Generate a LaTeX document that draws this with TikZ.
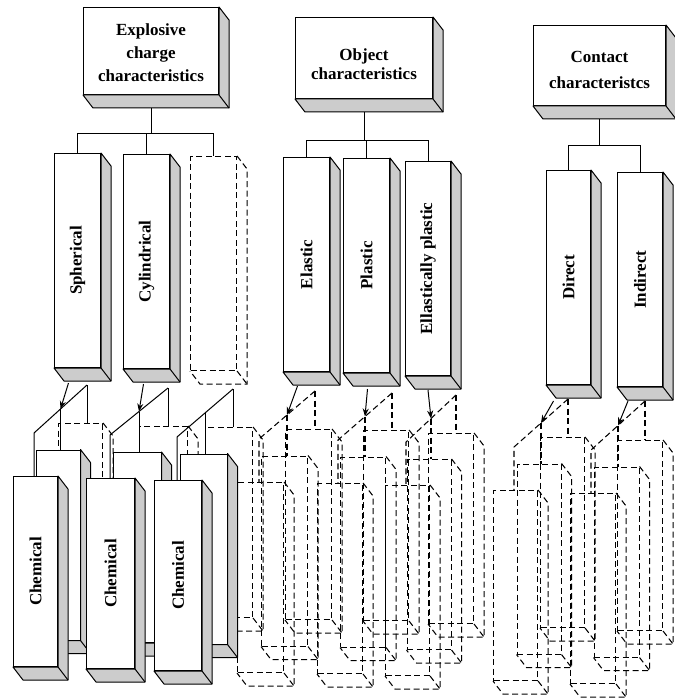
\documentclass[tikz,border=0pt]{standalone}
\usepackage{fontspec}
\setmainfont{Liberation Serif}
\usetikzlibrary{calc,arrows.meta}
\def\DX{10}
\def\DY{13}
\newcommand{\SolidCub}[5]{%
  \node[front, minimum width=#4pt, minimum height=#5pt] (#1) at (#2,#3) {};
  \filldraw[side] (#1.north east) -- ++(\DX,\DY) -- ($(#1.south east)+(\DX,\DY)$) -- ($(#1.south west)+(\DX,\DY)$) -- (#1.south west) -- (#1.south east) -- cycle;
  \draw[side,fill=none] (#1.south east) -- ++(\DX,\DY);
}
\newcommand{\WireCub}[5]{%
  \node[wire, minimum width=#4pt, minimum height=#5pt] (#1) at (#2,#3) {};
  \draw[dsh] (#1.north east) -- ++(\DX,\DY) -- ($(#1.south east)+(\DX,\DY)$) -- ($(#1.south west)+(\DX,\DY)$) -- (#1.south west);
  \draw[dsh] (#1.south east) -- ++(\DX,\DY);
}
\begin{document}
\begin{tikzpicture}[x=1pt,y=-1pt,
  front/.style={draw, line width=1pt, fill=white, inner sep=0pt, anchor=north west},
  wire/.style={draw, line width=1.05pt, dash pattern=on 6pt off 3.5pt, inner sep=0pt, anchor=north west},
  side/.style={draw, line width=1pt, fill=black!20, line join=round},
  dsh/.style={line width=1.05pt, dash pattern=on 6pt off 3.5pt},
  conn/.style={line width=1pt},
  arr/.style={line width=1pt, -{Stealth[length=8pt,width=6pt]}},
  lab/.style={font=\bfseries\fontsize{17}{20}\selectfont, inner sep=0pt},
  vlab/.style={lab, rotate=90},
]
\useasboundingbox (0,0) rectangle (674,698);
\fill[white] (0,0) rectangle (674,698);

% ---------- headers ----------
\SolidCub{h1}{83}{7}{135}{87}
\SolidCub{h2}{295}{17}{137}{81}
\SolidCub{h3}{533}{25}{132}{80}
\node[lab, font=\bfseries\fontsize{17}{23}\selectfont, align=center] (h1t) at ($(h1.center)+(0,2)$) {Explosive\\charge\\characteristics};
\node[lab, font=\bfseries\fontsize{17}{19}\selectfont, align=center] (h2t) at ($(h2.center)+(0,6)$) {Object\\characteristics};
\node[lab, font=\bfseries\fontsize{17}{26}\selectfont, align=center] (h3t) at ($(h3.center)+(0,4)$) {Contact\\characteristcs};

% ---------- second level ----------
\SolidCub{sph}{54}{153}{46}{214}
\SolidCub{cyl}{123}{154}{46}{214}
\WireCub{dsb}{190}{156}{46}{214}
\SolidCub{ela}{283}{157}{46}{214}
\SolidCub{pla}{343}{158}{46}{214}
\SolidCub{ell}{405}{161}{45}{214}
\SolidCub{dir}{546}{170}{44}{214}
\SolidCub{ind}{617}{172}{45}{214}
\node[vlab] (sphl) at (sph.center) {Spherical};
\node[vlab] (cyll) at (cyl.center) {Cylindrical};
\node[vlab] (elal) at (ela.center) {Elastic};
\node[vlab] (plal) at (pla.center) {Plastic};
\node[vlab] (elll) at (ell.center) {Ellastically plastic};
\node[vlab] (dirl) at (dir.center) {Direct};
\node[vlab] (indl) at (ind.center) {Indirect};

% ---------- level 1 -> 2 connectors ----------
\coordinate (bus1) at (150,133);
\coordinate (bus2) at (363,140);
\coordinate (bus3) at (600,145);
\draw[conn] ($(h1.south)+(0,13)$) -- (h1.south |- bus1);
\draw[conn] (sph.north) -- (sph.north |- bus1) -- (dsb.north |- bus1) -- (dsb.north);
\draw[conn] (cyl.north) -- (cyl.north |- bus1);
\draw[conn] ($(h2.south)+(0,13)$) -- (h2.south |- bus2);
\draw[conn] (ela.north) -- (ela.north |- bus2) -- (ell.north |- bus2) -- (ell.north);
\draw[conn] (pla.north) -- (pla.north |- bus2);
\draw[conn] ($(h3.south)+(0,13)$) -- (h3.south |- bus3);
\draw[conn] (dir.north) -- (dir.north |- bus3) -- (ind.north |- bus3) -- (ind.north);

% ---------- third level: dashed boxes ----------
\WireCub{g1b}{58}{423}{44}{190}
\WireCub{g2b}{139}{426}{48}{190}
\WireCub{g3b}{205}{427}{47}{190}
\WireCub{g4b}{285}{429}{46}{190}
\WireCub{g4m}{261}{455.5}{46}{190}
\WireCub{g4f}{237}{482}{46}{190}
\WireCub{g5b}{363}{430}{45}{190}
\WireCub{g5m}{340}{456.5}{45}{190}
\WireCub{g5f}{317}{483}{45}{190}
\WireCub{g6b}{428}{433}{45}{190}
\WireCub{g6m}{406.5}{459}{44}{190}
\WireCub{g6f}{385}{485}{44}{190}
\WireCub{g7b}{540}{437}{44}{190}
\WireCub{g7m}{516.5}{463.5}{44}{190}
\WireCub{g7f}{493}{490}{44}{190}
\WireCub{g8b}{617}{440}{45}{190}
\WireCub{g8m}{593.5}{466.5}{45}{190}
\WireCub{g8f}{570}{493}{45}{190}

% ---------- chemical groups (solid) ----------
\SolidCub{g1m}{35.5}{449.5}{44}{190}
\SolidCub{g2m}{112.5}{452}{48}{190}
\SolidCub{g3m}{179.5}{453.5}{47}{190}
\SolidCub{g1f}{13}{476}{44}{190}
\SolidCub{g2f}{86}{478}{48}{190}
\SolidCub{g3f}{154}{480}{47}{190}
\node[vlab] (c1) at (g1f.center) {Chemical};
\node[vlab] (c2) at (g2f.center) {Chemical};
\node[vlab] (c3) at (g3f.center) {Chemical};

% ---------- brackets ----------
\coordinate (p1) at (87,385); \coordinate (q1) at (34,433); \coordinate (m1) at ($(p1)!0.5!(q1)$);
\coordinate (p2) at (168,388); \coordinate (q2) at (110,435); \coordinate (m2) at ($(p2)!0.5!(q2)$);
\coordinate (p3) at (233,389); \coordinate (q3) at (177,437); \coordinate (m3) at ($(p3)!0.5!(q3)$);
\coordinate (p4) at (315,391); \coordinate (q4) at (259,439); \coordinate (m4) at ($(p4)!0.5!(q4)$);
\coordinate (p5) at (392,393); \coordinate (q5) at (338,440); \coordinate (m5) at ($(p5)!0.5!(q5)$);
\coordinate (p6) at (456,395); \coordinate (q6) at (406,442); \coordinate (m6) at ($(p6)!0.5!(q6)$);
\coordinate (p7) at (568,399); \coordinate (q7) at (514,447); \coordinate (m7) at ($(p7)!0.5!(q7)$);
\coordinate (p8) at (645,401); \coordinate (q8) at (591,450); \coordinate (m8) at ($(p8)!0.5!(q8)$);

\foreach \i in {1,2,3}{
  \draw[conn] (p\i) -- (q\i) -- (q\i |- g\i f.north);
  \draw[conn] (p\i) -- (p\i |- g\i b.north);
  \draw[conn] (m\i) -- (m\i |- g\i m.north);
}
\foreach \i in {4,5,6,7,8}{
  \draw[dsh] (p\i) -- (q\i) -- (q\i |- g\i f.north);
  \draw[dsh] (p\i) -- (p\i |- g\i b.north);
  \draw[dsh] (m\i) -- (m\i |- g\i m.north);
}

% ---------- arrows ----------
\draw[arr] ($(sph.south)+(-9,15)$) -- (m1);
\draw[arr] ($(cyl.south)+(-3,15)$) -- (m2);
\draw[arr] ($(ela.south)+(-9,14)$) -- (m4);
\draw[arr] ($(pla.south)+(1,16)$) -- (m5);
\draw[arr] ($(ell.south)+(0,14)$) -- (m6);
\draw[arr] ($(dir.south)+(-15,16)$) -- (m7);
\draw[arr] ($(ind.south)+(-12,14)$) -- (m8);
\end{tikzpicture}
\end{document}
